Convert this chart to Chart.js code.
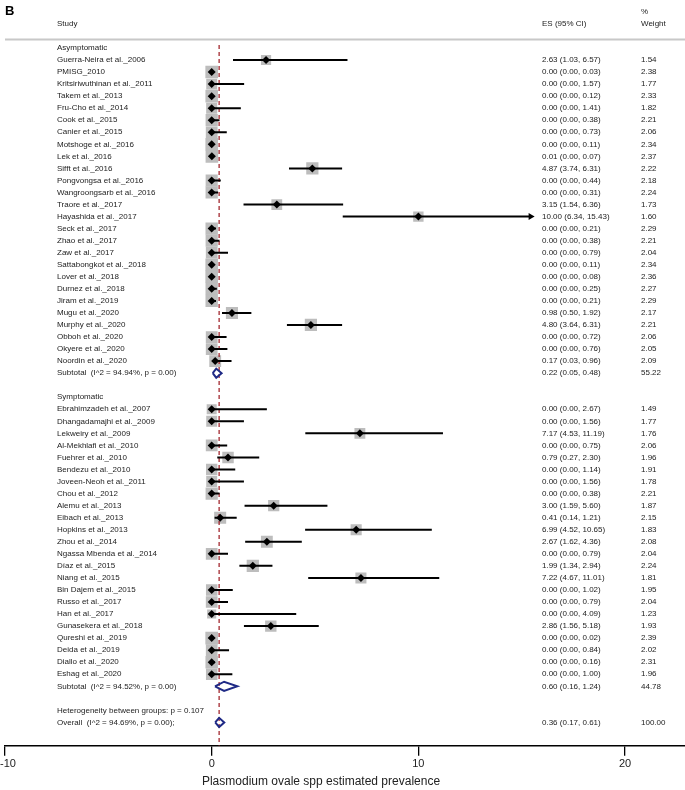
<!DOCTYPE html>
<html>
<head>
<meta charset="utf-8">
<script src="https://cdn.jsdelivr.net/npm/chart.js@4.4.1/dist/chart.umd.min.js"></script>
<style>
  html, body { margin: 0; padding: 0; background: #fff; }
  canvas { display: block; }
</style>
</head>
<body>
<canvas id="forest" width="685" height="790"></canvas>
<script>
// ── Data ──────────────────────────────────────────────────────────────────
const ASYM_STUDIES = [
  "Guerra-Neira et al._2006", "PMISG_2010", "Kritsiriwuthinan et al._2011", "Takem et al._2013",
  "Fru-Cho et al._2014", "Cook et al._2015", "Canier et al._2015", "Motshoge et al._2016",
  "Lek et al._2016", "Sifft et al._2016", "Pongvongsa et al._2016", "Wangroongsarb et al._2016",
  "Traore et al._2017", "Hayashida et al._2017", "Seck et al._2017", "Zhao et al._2017",
  "Zaw et al._2017", "Sattabongkot et al._2018", "Lover et al._2018", "Durnez et al._2018",
  "Jiram et al._2019", "Mugu et al._2020", "Murphy et al._2020", "Obboh et al._2020",
  "Okyere et al._2020", "Noordin et al._2020",
];
const ASYM_ES = [2.63, 0, 0, 0, 0, 0, 0, 0, 0.01, 4.87, 0, 0, 3.15, 10.00, 0, 0, 0, 0, 0, 0, 0, 0.98, 4.80, 0, 0, 0.17];
const ASYM_LO = [1.03, 0, 0, 0, 0, 0, 0, 0, 0, 3.74, 0, 0, 1.54, 6.34, 0, 0, 0, 0, 0, 0, 0, 0.50, 3.64, 0, 0, 0.03];
const ASYM_HI = [6.57, 0.03, 1.57, 0.12, 1.41, 0.38, 0.73, 0.11, 0.07, 6.31, 0.44, 0.31, 6.36, 15.43, 0.21, 0.38, 0.79, 0.11, 0.08, 0.25, 0.21, 1.92, 6.31, 0.72, 0.76, 0.96];
const ASYM_WT = [1.54, 2.38, 1.77, 2.33, 1.82, 2.21, 2.06, 2.34, 2.37, 2.22, 2.18, 2.24, 1.73, 1.60, 2.29, 2.21, 2.04, 2.34, 2.36, 2.27, 2.29, 2.17, 2.21, 2.06, 2.05, 2.09];

const SYMP_STUDIES = [
  "Ebrahimzadeh et al._2007", "Dhangadamajhi et al._2009", "Lekweiry et al._2009", "Al-Mekhlafi et al._2010",
  "Fuehrer et al._2010", "Bendezu et al._2010", "Joveen-Neoh et al._2011", "Chou et al._2012",
  "Alemu et al._2013", "Eibach et al._2013", "Hopkins et al._2013", "Zhou et al._2014",
  "Ngassa Mbenda et al._2014", "Díaz et al._2015", "Niang et al._2015", "Bin Dajem et al._2015",
  "Russo et al._2017", "Han et al._2017", "Gunasekera et al._2018", "Qureshi et al._2019",
  "Deida et al._2019", "Diallo et al._2020", "Eshag et al._2020",
];
const SYMP_ES = [0, 0, 7.17, 0, 0.79, 0, 0, 0, 3.00, 0.41, 6.99, 2.67, 0, 1.99, 7.22, 0, 0, 0, 2.86, 0, 0, 0, 0];
const SYMP_LO = [0, 0, 4.53, 0, 0.27, 0, 0, 0, 1.59, 0.14, 4.52, 1.62, 0, 1.34, 4.67, 0, 0, 0, 1.56, 0, 0, 0, 0];
const SYMP_HI = [2.67, 1.56, 11.19, 0.75, 2.30, 1.14, 1.56, 0.38, 5.60, 1.21, 10.65, 4.36, 0.79, 2.94, 11.01, 1.02, 0.79, 4.09, 5.18, 0.02, 0.84, 0.16, 1.00];
const SYMP_WT = [1.49, 1.77, 1.76, 2.06, 1.96, 1.91, 1.78, 2.21, 1.87, 2.15, 1.83, 2.08, 2.04, 2.24, 1.81, 1.95, 2.04, 1.23, 1.93, 2.39, 2.02, 2.31, 1.96];

const GROUPS = ["Asymptomatic", "Symptomatic"];
const SUB_LABELS = ["Subtotal  (I^2 = 94.94%, p = 0.00)", "Subtotal  (I^2 = 94.52%, p = 0.00)"];
const SUB_ES = [0.22, 0.60];
const SUB_LO = [0.05, 0.16];
const SUB_HI = [0.48, 1.24];
const SUB_WT = [55.22, 44.78];

const HET_LABEL = "Heterogeneity between groups: p = 0.107";
const OVERALL_LABEL = "Overall  (I^2 = 94.69%, p = 0.00);";
const OVERALL = { es: 0.36, lo: 0.17, hi: 0.61, wt: 100.00 };

const ARROWS = ["Hayashida et al._2017"];   // CI drawn with an arrow head
const X_TICKS = [-10, 0, 10, 20];
const X_TITLE = "Plasmodium ovale spp estimated prevalence";

// ── Layout constants ──────────────────────────────────────────────────────
const X_MIN = -10, X_MAX = 22.9;
const Y_MIN = -0.66, Y_MAX = 57.94;   // row units, reversed
const FONT = "'Liberation Sans', Arial, Helvetica, sans-serif";
const GRAY = "#bdbdbd";
const NAVY = "#1f2a86";
const DASH_RED = "#a3282f";

// Build the row list (one entry per text line)
const rows = [];
function addGroup(g, names, es, lo, hi, wt) {
  rows.push({ kind: "head", label: GROUPS[g] });
  names.forEach((n, i) => rows.push({ kind: "study", label: n, es: es[i], lo: lo[i], hi: hi[i], wt: wt[i] }));
  rows.push({ kind: "sub", label: SUB_LABELS[g], es: SUB_ES[g], lo: SUB_LO[g], hi: SUB_HI[g], wt: SUB_WT[g] });
  rows.push({ kind: "blank", label: "" });
}
addGroup(0, ASYM_STUDIES, ASYM_ES, ASYM_LO, ASYM_HI, ASYM_WT);
addGroup(1, SYMP_STUDIES, SYMP_ES, SYMP_LO, SYMP_HI, SYMP_WT);
rows.push({ kind: "text", label: HET_LABEL });
rows.push({ kind: "sub", label: OVERALL_LABEL, ...OVERALL });

const studies = rows.map((r, i) => ({ ...r, y: i })).filter((r) => r.kind === "study");
const subs = rows.map((r, i) => ({ ...r, y: i })).filter((r) => r.kind === "sub");

// CI segments, separated by gaps
const ciData = [];
for (const s of studies) {
  ciData.push({ x: s.lo, y: s.y }, { x: s.hi, y: s.y }, { x: s.hi, y: null });
}
// Hollow diamonds for pooled estimates
const DH = 0.38;
const diamondData = [];
for (const s of subs) {
  diamondData.push(
    { x: s.lo, y: s.y }, { x: s.es, y: s.y - DH }, { x: s.hi, y: s.y },
    { x: s.es, y: s.y + DH }, { x: s.lo, y: s.y }, { x: s.lo, y: null }
  );
}
const arrowData = studies.filter((s) => ARROWS.includes(s.label)).map((s) => ({ x: s.hi, y: s.y }));

// ── Text columns plugin ───────────────────────────────────────────────────
const forestText = {
  id: "forestText",
  beforeDatasetsDraw(chart) {
    const { ctx, chartArea } = chart;
    ctx.save();
    ctx.strokeStyle = "#c8c8c8";
    ctx.lineWidth = 2;
    ctx.beginPath();
    ctx.moveTo(chartArea.left, 39.5);
    ctx.lineTo(chartArea.right, 39.5);
    ctx.stroke();
    ctx.restore();
  },
  afterDraw(chart) {
    const { ctx } = chart;
    const ys = chart.scales.y;
    const xs = chart.scales.x;
    ctx.save();
    ctx.fillStyle = "#000";
    ctx.textBaseline = "middle";
    ctx.font = "bold 13px " + FONT;
    ctx.fillText("B", 5, 11);
    ctx.fillStyle = "#222";
    ctx.font = "8px " + FONT;
    ctx.fillText("Study", 57, 23.5);
    ctx.fillText("ES (95% CI)", 542, 23.5);
    ctx.fillText("%", 641, 11.5);
    ctx.fillText("Weight", 641, 23.5);

    rows.forEach((r, i) => {
      const py = ys.getPixelForValue(i);
      if (r.label) ctx.fillText(r.label, 57, py);
      if (r.kind === "study" || r.kind === "sub") {
        ctx.fillText(`${r.es.toFixed(2)} (${r.lo.toFixed(2)}, ${r.hi.toFixed(2)})`, 542, py);
        ctx.fillText(r.wt.toFixed(2), 641, py);
      }
    });

    // first tick label sits at the canvas edge: keep it inside
    ctx.font = "11px " + FONT;
    ctx.textAlign = "left";
    ctx.fillText(String(X_TICKS[0]), Math.max(0, xs.getPixelForValue(X_TICKS[0]) - 5), 764);

    ctx.font = "12px " + FONT;
    ctx.textAlign = "center";
    ctx.fillText(X_TITLE, 321, 782);
    ctx.restore();
  },
};

new Chart(document.getElementById("forest"), {
  type: "scatter",
  data: {
    datasets: [
      { // point estimates
        data: studies.map((s) => ({ x: s.es, y: s.y })),
        pointStyle: "rectRot",
        pointRadius: 4,
        backgroundColor: "#000",
        borderWidth: 0,
        order: 1,
      },
      { // arrow heads
        data: arrowData,
        pointStyle: "triangle",
        rotation: 90,
        pointRadius: 4,
        backgroundColor: "#000",
        borderWidth: 0,
        order: 1,
      },
      { // pooled diamonds
        data: diamondData,
        showLine: true,
        borderColor: NAVY,
        borderWidth: 2,
        borderJoinStyle: "miter",
        pointRadius: 0,
        tension: 0,
        order: 2,
      },
      { // confidence intervals
        data: ciData,
        showLine: true,
        borderColor: "#000",
        borderWidth: 2,
        pointRadius: 0,
        tension: 0,
        order: 3,
      },
      { // overall effect line
        data: [{ x: OVERALL.es, y: -0.25 }, { x: OVERALL.es, y: Y_MAX }],
        showLine: true,
        borderColor: DASH_RED,
        borderWidth: 1.3,
        borderDash: [4, 3],
        pointRadius: 0,
        order: 4,
      },
      { // weight boxes
        data: studies.map((s) => ({ x: s.es, y: s.y })),
        pointStyle: "rect",
        pointRadius: (c) => (8.2 * Math.sqrt(studies[c.dataIndex].wt)) * Math.SQRT1_2,
        backgroundColor: GRAY,
        borderWidth: 0,
        order: 5,
      },
    ],
  },
  options: {
    responsive: false,
    animation: false,
    events: [],
    layout: { autoPadding: false, padding: { left: 5, right: 0, top: 40, bottom: 17 } },
    plugins: { legend: { display: false }, tooltip: { enabled: false } },
    scales: {
      x: {
        type: "linear",
        min: X_MIN,
        max: X_MAX,
        afterBuildTicks: (s) => { s.ticks = X_TICKS.map((v) => ({ value: v })); },
        afterFit: (s) => { s.paddingLeft = 0; s.paddingRight = 0; },
        grid: { drawOnChartArea: false, drawTicks: true, tickLength: 10, color: "#000", lineWidth: 1.3 },
        border: { display: true, color: "#000", width: 1.5 },
        ticks: {
          color: (c) => (c.tick && c.tick.value === X_TICKS[0] ? "rgba(0,0,0,0)" : "#222"),
          font: { size: 11, family: FONT },
          padding: 2,
          maxRotation: 0,
          autoSkip: false,
        },
      },
      y: {
        type: "linear",
        display: false,
        reverse: true,
        min: Y_MIN,
        max: Y_MAX,
      },
    },
  },
  plugins: [forestText],
});
</script>
</body>
</html>
